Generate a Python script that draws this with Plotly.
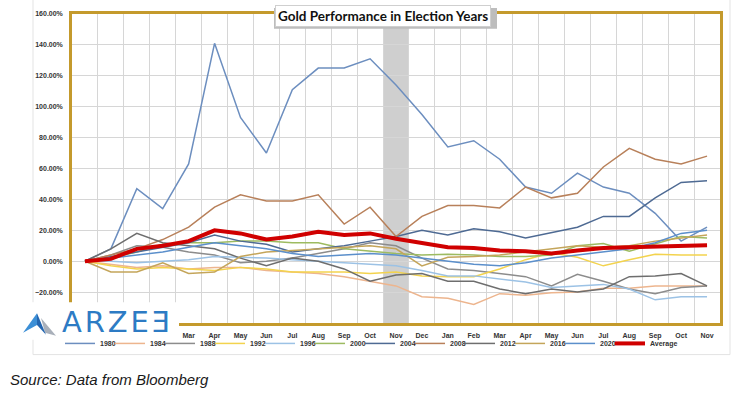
import plotly.graph_objects as go

months = ["Nov", "Dec", "Jan", "Feb", "Mar", "Apr", "May", "Jun", "Jul", "Aug", "Sep", "Oct",
          "Nov", "Dec", "Jan", "Feb", "Mar", "Apr", "May", "Jun", "Jul", "Aug", "Sep", "Oct", "Nov"]

s1980 = [0, 8, 47, 34, 63, 141, 93, 70, 111, 125, 125, 131, 114, 95, 74, 78, 66, 48, 44, 57, 48, 44, 31, 13, 22]
s1984 = [0, -2, -4, -3, -5, -4, -4, -6, -7, -8, -10, -13, -16, -23, -24, -28, -21, -22, -20.5, -20, -17.5, -17.5, -16, -16, -16]
s1988 = [0, 4, 10, 9, 6, 4, -1, 0, 2, 5, 8, 12, 10, 2, -5, -6, -8, -10, -16, -8.5, -13, -18, -21, -17, -16]
s1992 = [0, -3, -5, -4, -5, -6, -4, -5, -7, -7, -7, -8, -7, -9.5, -10, -10, -5, 1, 5.5, 2.5, -3, 1, 4.5, 4, 4]
s1996 = [0, 0, -1, 0, 1, 3, 2.5, 2, 1, 0, -1, -2, -3, -6, -9.5, -9.5, -11.5, -13.5, -17, -16, -15, -18, -25, -23, -23]
s2000 = [0, 2, 6, 11, 12, 12, 13, 13, 12, 12, 8, 6.5, 5, 4, 4.5, 4, 3, 3, 4, 10, 11.5, 6.5, 11.5, 16, 15]
s2004 = [0, 3, 6, 9, 12, 17, 13, 11, 6, 8, 10, 13, 16, 20, 17, 21, 19, 15, 18.5, 22, 29, 29, 41, 51, 52]
s2008 = [0, 4, 8, 14, 22, 35, 43, 39, 39, 43, 24, 35, 16, 29, 36, 36, 34.5, 48, 41, 44, 61, 73, 66, 63, 68]
s2012 = [0, 8, 18, 12, 10, 8, 2, -3, 2, 0, -5, -13, -9, -8, -13, -13, -18, -21, -18, -20, -18, -10, -9.5, -8, -16]
s2016 = [0, -7, -7, -1, -8, -7, 3, 6, 7, 8, 9, 10, 8, -3, 2.5, 3, 4, 6, 8, 10, 9, 10, 13, 15, 17]
s2020 = [0, 2, 4, 6, 9, 12, 10, 8, 5, 3, 4, 5, 4, 2, 0, -2, -3, -1, 2, 4, 6, 8, 12, 18, 20]
average = [0, 1.5, 8, 10, 13, 20, 18, 14, 16, 19, 17, 18, 14.5, 11.5, 9, 8.5, 7, 6.5, 5, 7, 8.5, 9, 9.6, 9.8, 10.3]

series = [
    ("1980", s1980, "#6C8EBF", 1.5),
    ("1984", s1984, "#EDB58E", 1.5),
    ("1988", s1988, "#8C8C8C", 1.5),
    ("1992", s1992, "#F3D34E", 1.5),
    ("1996", s1996, "#9CC2E5", 1.5),
    ("2000", s2000, "#9DBB61", 1.5),
    ("2004", s2004, "#4E6A93", 1.5),
    ("2008", s2008, "#B8805A", 1.5),
    ("2012", s2012, "#6E6E6E", 1.5),
    ("2016", s2016, "#C4A55A", 1.5),
    ("2020", s2020, "#5B8FCB", 1.5),
    ("Average", average, "#D00000", 4),
]

L, R, T, B = 72, 720, 10, 323
W, H = 746, 398
def px(v):
    return (v - L) / (R - L)
def py(v):
    return (B - v) / (B - T)

x = list(range(len(months)))
fig = go.Figure()
leg_font = dict(size=7, family="Liberation Sans", color="#333", weight="bold")
leg_start, leg_step = 60, 50
for k, (name, vals, color, w) in enumerate(series):
    lname = "legend" if k == 0 else f"legend{k + 1}"
    fig.add_trace(go.Scatter(x=x, y=[v / 100 for v in vals], mode="lines", name=name,
                             line=dict(color=color, width=w), legend=lname))
    fig.update_layout(**{lname: dict(orientation="h", x=px(leg_start + k * leg_step), y=py(329),
                                     xanchor="left", yanchor="top", font=leg_font,
                                     bgcolor="rgba(0,0,0,0)", borderwidth=0)})

gold = "#C49A2C"
fig.update_layout(
    width=W, height=H,
    margin=dict(l=L, r=W - R, t=T, b=H - B),
    paper_bgcolor="white", plot_bgcolor="white",
    showlegend=True,
    xaxis=dict(range=[-0.5, 24.5], tickvals=x, ticktext=months, showgrid=False,
               showline=True, linecolor=gold, linewidth=2.5, mirror=True, zeroline=False,
               tickfont=dict(size=7, family="Liberation Sans", color="#333", weight="bold"),
               ticks="", ticklabelstandoff=4,
               minor=dict(tick0=0.5, dtick=1, showgrid=True, gridcolor="#D6D6D6", gridwidth=1)),
    yaxis=dict(range=[-0.4, 1.6], dtick=0.2, tickformat=".2%", showgrid=True,
               gridcolor="#D6D6D6", gridwidth=1,
               showline=True, linecolor=gold, linewidth=2.5, mirror=True, zeroline=False,
               tickfont=dict(size=7, family="Liberation Sans", color="#333", weight="bold"),
               ticks="", ticklabelstandoff=5),
)

# election shading
fig.add_vrect(x0=11.5, x1=12.5, fillcolor="#CFCFCF", opacity=1, line_width=0, layer="below")

# outer frame
fig.add_shape(type="rect", xref="paper", yref="paper", x0=px(33), x1=px(730), y0=py(355), y1=py(0) + 0.05,
              line=dict(color="#E3E3E3", width=1), fillcolor="rgba(0,0,0,0)", layer="below")

# title box shadow + title
fig.add_shape(type="rect", xref="paper", yref="paper", x0=px(274), x1=px(497), y0=py(25), y1=py(4),
              line=dict(width=0), fillcolor="#BDBDBD", layer="above")
fig.add_annotation(xref="paper", yref="paper", x=px(383), y=py(12), xanchor="center", yanchor="middle",
                   text="<b>Gold Performance in Election Years</b>", showarrow=False,
                   font=dict(size=13.5, family="Lato", color="#111"),
                   bgcolor="white", bordercolor="#CFCFCF", borderwidth=1, borderpad=2)

# logo box
fig.add_shape(type="rect", xref="paper", yref="paper", x0=px(20), x1=px(179), y0=py(340), y1=py(302),
              line=dict(width=0), fillcolor="white", layer="above")
def path(pts):
    return "M " + " L ".join(f"{px(a)},{py(b)}" for a, b in pts) + " Z"
fig.add_shape(type="path", xref="paper", yref="paper", path=path([(41, 318), (56, 336), (45, 333)]),
              line=dict(width=0), fillcolor="#A9B0BA", layer="above")
fig.add_shape(type="path", xref="paper", yref="paper", path=path([(37, 313), (23, 333), (37, 325)]),
              line=dict(width=0), fillcolor="#3C8FD6", layer="above")
fig.add_shape(type="path", xref="paper", yref="paper", path=path([(37, 313), (46, 335), (37, 325)]),
              line=dict(width=0), fillcolor="#2466B0", layer="above")
fig.add_annotation(xref="paper", yref="paper", x=px(60), y=py(322), xanchor="left", yanchor="middle",
                   text="A&#8202;R&#8202;Z&#8202;E&#8202;Ǝ", showarrow=False,
                   font=dict(size=29, family="DejaVu Sans", color="#2D7BC4"))

# source
fig.add_annotation(xref="paper", yref="paper", x=px(8), y=py(380), xanchor="left", yanchor="middle",
                   text="<i>Source: Data from Bloomberg</i>", showarrow=False,
                   font=dict(size=15, family="Liberation Sans", color="#1A1A1A"))

fig.write_html("out.html", config={"displayModeBar": False},
               post_script="document.body.style.margin='0';")
